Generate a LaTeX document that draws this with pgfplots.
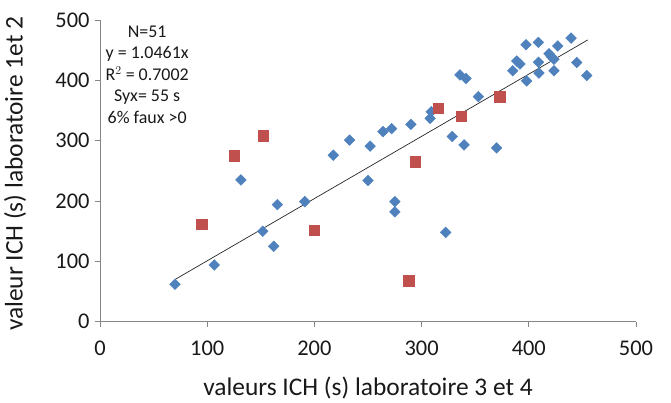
\documentclass[border=0pt]{standalone}
\usepackage{pgfplots}
\pgfplotsset{compat=1.18}
\usepackage{fontspec}
\setmainfont{Carlito}

\definecolor{xlblue}{HTML}{4F81BD}
\definecolor{xlred}{HTML}{C0504D}
\definecolor{axgray}{HTML}{868686}

\begin{document}
\begin{tikzpicture}
\useasboundingbox (-100bp,-81.3bp) rectangle (571bp,321.7bp);
\begin{axis}[
    scale only axis,
    width=536bp, height=301.7bp,
    xmin=0, xmax=500, ymin=0, ymax=500,
    xtick={0,100,...,500}, ytick={0,100,...,500},
    axis lines=left,
    axis line style={axgray, line width=0.8pt, -},
    tick style={axgray, line width=0.8pt},
    tick align=outside,
    major tick length=5bp,
    /pgf/number format/assume math mode=true,
    ticklabel style={font=\fontsize{22.5}{22.5}\selectfont, text=black!90},
    xticklabel style={yshift=-11bp},
    yticklabel style={xshift=-2bp},
    xlabel={valeurs ICH (s) laboratoire 3 et 4},
    ylabel={valeur ICH (s) laboratoire 1et 2},
    label style={font=\fontsize{25.5}{25.5}\selectfont, text=black!90},
    xlabel style={at={(axis description cs:0.5,-0.221)}, anchor=center},
    ylabel style={at={(axis description cs:-0.1586,0.49)}, anchor=center},
    clip=false,
]
% trend line y = 1.0461x
\addplot[black!85, line width=0.7pt] coordinates {(70,70) (455,467)};

\addplot[only marks, mark=square*, mark size=3.8bp,
    mark options={rotate=45, fill=xlblue, draw=xlblue}] coordinates {
(70,62) (106.6,94) (131.5,235) (165.4,194) (151.8,150) (162,125)
(191,199) (217.6,276) (232.9,301) (252,291) (250,234) (264,315)
(272,320) (275,199) (275,182) (290,327) (308,337) (309,348)
(322.5,148) (328.6,307) (335.8,409) (341.4,403) (339.6,293) (353,373)
(370,288) (385,416) (388.7,432) (391.8,427) (397.4,459) (408.9,463)
(398,399) (409,430) (409.5,412) (418.8,444) (421,439.5) (423.4,435)
(427,457) (423.5,416) (439.4,470) (444.7,429.5) (454,408)
};

\addplot[only marks, mark=square*, mark size=5.2bp,
    mark options={fill=xlred, draw=xlred}] coordinates {
(95,161.5) (125,275) (152,308) (200,152) (288,68) (294,265)
(315.6,354) (336.8,341) (373,373)
};

\node[align=center, font=\fontsize{18}{21.7}\selectfont, text=black!90]
    at (axis cs:44,409.5) {N=51\\y = 1.0461x\\R$^2$ = 0.7002\\Syx= 55 s\\6\% faux >0};
\end{axis}
\end{tikzpicture}
\end{document}
